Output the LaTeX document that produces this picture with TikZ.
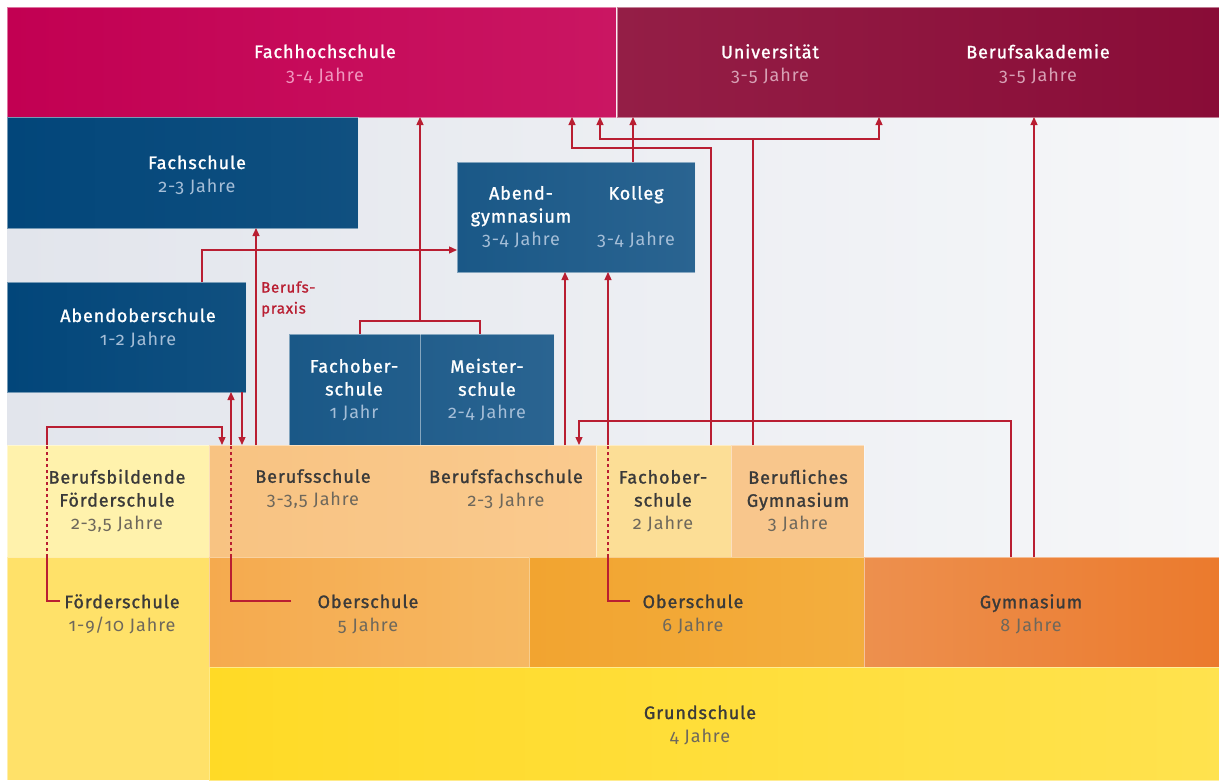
\documentclass[tikz,border=0pt]{standalone}
\usepackage{fontspec}
\setmainfont[Numbers=OldStyle]{Fira Sans}
\newfontfamily\ttlfont[Numbers=OldStyle,FakeBold=1.3,LetterSpace=5]{Fira Sans}
\newfontfamily\subfont[Numbers=OldStyle,LetterSpace=5]{Fira Sans}
\usetikzlibrary{arrows.meta}
\definecolor{fhA}{RGB}{194,0,82}
\definecolor{fhB}{RGB}{202,22,98}
\definecolor{uniA}{RGB}{148,30,70}
\definecolor{uniB}{RGB}{137,12,55}
\definecolor{bgA}{RGB}{226,229,236}
\definecolor{bgB}{RGB}{246,247,249}
\definecolor{bl1A}{RGB}{2,70,122}
\definecolor{bl1B}{RGB}{16,80,128}
\definecolor{bl2A}{RGB}{26,88,135}
\definecolor{bl2B}{RGB}{42,100,145}
\definecolor{bfoe}{RGB}{255,242,172}
\definecolor{bsA}{RGB}{248,195,130}
\definecolor{bsB}{RGB}{250,202,142}
\definecolor{fos}{RGB}{252,222,150}
\definecolor{bgy}{RGB}{248,198,140}
\definecolor{foe}{RGB}{255,225,105}
\definecolor{ob5A}{RGB}{245,170,78}
\definecolor{ob5B}{RGB}{246,184,98}
\definecolor{ob6A}{RGB}{242,164,48}
\definecolor{ob6B}{RGB}{243,174,62}
\definecolor{gymA}{RGB}{237,144,78}
\definecolor{gymB}{RGB}{235,122,45}
\definecolor{grA}{RGB}{255,218,38}
\definecolor{grB}{RGB}{255,226,78}
\definecolor{rd}{RGB}{185,30,50}
\definecolor{dk}{RGB}{58,58,58}
\definecolor{dksub}{RGB}{110,104,92}
\definecolor{blsub}{RGB}{165,190,215}
\definecolor{fhsub}{RGB}{240,150,190}
\definecolor{unisub}{RGB}{215,160,180}
\newcommand{\yrs}[2]{{\subfont\textcolor{#1}{#2}}}
\begin{document}
\begin{tikzpicture}[x=1pt,y=-1pt,
  box/.style={anchor=north west, inner sep=0pt, outer sep=0pt, draw=white, draw opacity=0.45, line width=0.6pt},
  lt/.style={align=center, inner sep=0pt, font=\ttlfont\fontsize{18}{23}\selectfont},
  dark/.style={lt, text=dk},
  light/.style={lt, text=white},
  con/.style={draw=rd, line width=1.3pt},
  arr/.style={con, -{Triangle[length=8pt,width=7pt]}},
  dsh/.style={con, dash pattern=on 3pt off 3pt}
]
\useasboundingbox (0,0) rectangle (1219,780);
\fill[white] (0,0) rectangle (1219,780);
% background
\node[box, draw=none, minimum width=1212pt, minimum height=440pt, left color=bgA, right color=bgB] (bg) at (7,117) {};
% top
\node[box, minimum width=609pt, minimum height=110pt, left color=fhA, right color=fhB] (fh) at (7,7) {};
\node[box, minimum width=602pt, minimum height=110pt, left color=uniA, right color=uniB] (uni) at (617,7) {};
% blue boxes
\node[box, minimum width=351pt, minimum height=111pt, left color=bl1A, right color=bl1B] (fs) at (7,117) {};
\node[box, minimum width=238pt, minimum height=110pt, left color=bl2A, right color=bl2B] (ag) at (457,162) {};
\node[box, minimum width=239pt, minimum height=110pt, left color=bl1A, right color=bl1B] (aob) at (7,282) {};
\node[box, minimum width=265pt, minimum height=111pt, left color=bl2A, right color=bl2B] (fm) at (289,334) {};
\draw[white, opacity=0.45, line width=0.6pt] (420,0 |- fm.north) -- (420,0 |- fm.south);
% row 1
\node[box, minimum width=202pt, minimum height=112pt, fill=bfoe] (bf) at (7,445) {};
\node[box, minimum width=387pt, minimum height=112pt, left color=bsA, right color=bsB] (bs) at (209,445) {};
\node[box, minimum width=135pt, minimum height=112pt, fill=fos] (fos) at (596,445) {};
\node[box, minimum width=133pt, minimum height=112pt, fill=bgy] (bgym) at (731,445) {};
% row 2
\node[box, minimum width=202pt, minimum height=223pt, fill=foe] (foe) at (7,557) {};
\node[box, minimum width=320pt, minimum height=110pt, left color=ob5A, right color=ob5B] (ob5) at (209,557) {};
\node[box, minimum width=335pt, minimum height=110pt, left color=ob6A, right color=ob6B] (ob6) at (529,557) {};
\node[box, minimum width=355pt, minimum height=110pt, left color=gymA, right color=gymB] (gym) at (864,557) {};
\node[box, minimum width=1010pt, minimum height=113pt, left color=grA, right color=grB] (gs) at (209,667) {};

% texts
\node[light] (tfh) at (325,64) {Fachhochschule\\\yrs{fhsub}{3-4 Jahre}};
\node[light] (tuni) at (770,64) {Universität\\\yrs{unisub}{3-5 Jahre}};
\node[light] (tba) at (1038,64) {Berufsakademie\\\yrs{unisub}{3-5 Jahre}};
\node[light] (tfs) at (197,175) {Fachschule\\\yrs{blsub}{2-3 Jahre}};
\node[light] (tag) at (521,217) {Abend-\\gymnasium\\\yrs{blsub}{3-4 Jahre}};
\node[light] (tko) at (636,217) {Kolleg\\~\\\yrs{blsub}{3-4 Jahre}};
\node[light] (taob) at (138,328) {Abendoberschule\\\yrs{blsub}{1-2 Jahre}};
\node[light] (tfob) at (354,390) {Fachober-\\schule\\\yrs{blsub}{1 Jahr}};
\node[light] (tms) at (487,390) {Meister-\\schule\\\yrs{blsub}{2-4 Jahre}};
\node[dark] (tbf) at (117,501) {Berufsbildende\\Förderschule\\\yrs{dksub}{2-3,5 Jahre}};
\node[dark] (tbs) at (313,489) {Berufsschule\\\yrs{dksub}{3-3,5 Jahre}};
\node[dark] (tbfs) at (506,489) {Berufsfachschule\\\yrs{dksub}{2-3 Jahre}};
\node[dark] (tfos) at (663,501) {Fachober-\\schule\\\yrs{dksub}{2 Jahre}};
\node[dark] (tbgy) at (798,501) {Berufliches\\Gymnasium\\\yrs{dksub}{3 Jahre}};
\node[dark] (tfoe) at (122,614) {Förderschule\\\yrs{dksub}{1-9/10 Jahre}};
\node[dark] (tob5) at (368,614) {Oberschule\\\yrs{dksub}{5 Jahre}};
\node[dark] (tob6) at (693,614) {Oberschule\\\yrs{dksub}{6 Jahre}};
\node[dark] (tgym) at (1031,614) {Gymnasium\\\yrs{dksub}{8 Jahre}};
\node[dark] (tgs) at (700,725) {Grundschule\\\yrs{dksub}{4 Jahre}};
\node[anchor=west, align=left, inner sep=0pt, text=rd, font=\ttlfont\fontsize{15}{21}\selectfont] (bp) at (261,299) {Berufs-\\praxis};

% connectors
\coordinate (foeend) at (60,601);
\coordinate (ob5end) at (291,601);
\coordinate (ob6end) at (630,601);
\draw[arr] (256,0 |- bs.north) -- (256,0 |- fs.south);
\draw[arr] (202,0 |- aob.north) |- (ag.west |- 0,250);
\draw[con] (360,0 |- fm.north) -- (360,321) -- (480,321) -- (480,0 |- fm.north);
\draw[arr] (420,321) -- (420,0 |- fh.south);
\draw[con] (foeend) -| (47,0 |- foe.north);
\draw[dsh] (47,0 |- foe.north) -- (47,0 |- bf.north);
\draw[arr] (47,0 |- bf.north) |- (222,427) -- (222,0 |- bs.north);
\draw[con] (ob5end) -| (231,0 |- ob5.north);
\draw[dsh] (231,0 |- ob5.north) -- (231,0 |- bs.north);
\draw[arr] (231,0 |- bs.north) -- (231,0 |- aob.south);
\draw[arr] (242,0 |- aob.south) -- (242,0 |- bs.north);
\draw[con] (ob6end) -| (608,0 |- ob6.north);
\draw[dsh] (608,0 |- ob6.north) -- (608,0 |- fos.north);
\draw[arr] (608,0 |- fos.north) -- (608,0 |- ag.south);
\draw[arr] (565,0 |- bs.north) -- (565,0 |- ag.south);
\draw[arr] (1011,0 |- gym.north) |- (579,421) -- (579,0 |- bs.north);
\draw[arr] (1034,0 |- gym.north) -- (1034,0 |- uni.south);
\draw[arr] (711,0 |- fos.north) |- (572,148) -- (572,0 |- fh.south);
\draw[con] (753,0 |- bgym.north) -- (753,139);
\draw[arr] (753,139) -| (600,0 |- fh.south);
\draw[arr] (753,139) -| (879,0 |- uni.south);
\draw[arr] (633,0 |- ag.north) -- (633,0 |- uni.south);
\end{tikzpicture}
\end{document}
